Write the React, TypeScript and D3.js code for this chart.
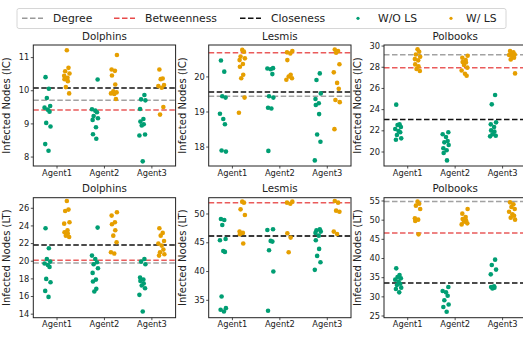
import React from 'react';
import * as d3 from 'd3';

const AGENTS = ['Agent1', 'Agent2', 'Agent3'];
const NETWORKS = ['Dolphins', 'Lesmis', 'Polbooks'];
const MODELS = ['IC', 'LT'];

// per agent: [W/O LS, W/ LS]
const dolphinsIC = [
  [[10.41, 10.06, 9.78, 9.54, 9.49, 9.43, 9.37, 9.03, 8.92, 8.39, 8.19],
   [11.22, 10.69, 10.59, 10.52, 10.45, 10.39, 10.35, 10.29, 10.11, 9.92]],
  [[10.34, 9.44, 9.4, 9.35, 9.24, 9.17, 9.12, 8.9, 8.69, 8.55],
   [11.08, 10.64, 10.6, 10.46, 10.19, 9.98, 9.95, 9.92, 9.9, 9.75]],
  [[9.87, 9.74, 9.71, 9.45, 9.15, 9.07, 8.99, 8.95, 8.68, 8.65, 7.87],
   [10.64, 10.37, 10.35, 10.17, 10.14, 10.09, 9.51, 9.28]],
];
const lesmisIC = [
  [[20.47, 20.15, 19.45, 19.41, 18.95, 18.8, 18.65, 17.9, 17.87],
   [20.77, 20.72, 20.58, 20.53, 20.48, 20.37, 20.29, 20.06, 19.96, 19.41, 18.98]],
  [[20.25, 20.24, 20.22, 20.08, 19.45, 19.41, 19.12, 19.1, 17.89],
   [20.74, 20.7, 20.67, 20.48, 20.06, 20.01, 19.96, 19.92]],
  [[20.1, 19.91, 19.53, 19.37, 19.25, 19.2, 18.94, 18.36, 18.15, 17.62],
   [20.78, 20.74, 20.69, 20.36, 20.13, 19.83, 19.66, 19.34, 19.28, 18.51]],
];
const polbooksIC = [
  [[24.47, 22.61, 22.55, 22.36, 22.17, 21.98, 21.86, 21.6, 21.29, 21.16],
   [29.69, 29.47, 29.21, 28.99, 28.77, 28.65, 28.27, 28.08, 27.83, 27.64]],
  [[21.86, 21.67, 21.42, 21.04, 20.91, 20.66, 20.35, 20.16, 19.91, 19.21],
   [29.09, 28.9, 28.68, 28.5, 28.46, 28.21, 27.96, 27.7, 27.39, 27.2]],
  [[25.38, 24.5, 22.8, 22.61, 22.36, 22.04, 21.92, 21.67, 21.54, 21.48],
   [29.53, 29.4, 29.28, 29.2, 29.15, 29.03, 28.9, 28.74, 27.42]],
];
const dolphinsLT = [
  [[23.74, 21.47, 20.26, 19.96, 19.74, 19.58, 19.36, 18.0, 17.62, 16.64, 15.96],
   [26.83, 25.85, 25.7, 24.42, 24.26, 23.51, 23.28, 23.13, 22.9, 22.75]],
  [[23.81, 20.64, 20.26, 19.89, 19.66, 19.21, 18.68, 17.92, 17.7, 16.87, 16.57],
   [25.55, 25.17, 24.42, 24.19, 23.51, 22.9, 22.15, 21.02, 20.87]],
  [[20.26, 19.96, 19.66, 18.15, 17.92, 17.77, 17.47, 17.25, 16.94, 16.19, 14.3],
   [23.74, 23.21, 22.9, 22.3, 22.0, 21.77, 21.32, 21.02, 20.79, 20.64]],
];
const lesmisLT = [
  [[49.13, 48.96, 48.09, 45.66, 45.43, 43.58, 43.41, 35.66, 33.64, 33.35, 33.06],
   [52.14, 51.97, 50.81, 49.83, 46.94, 46.71, 46.47, 44.86]],
  [[47.34, 47.23, 45.32, 45.2, 43.7, 40.0, 33.18],
   [52.14, 51.97, 51.79, 46.65, 45.9, 43.35]],
  [[47.34, 47.17, 46.94, 46.71, 46.24, 45.43, 43.93, 42.72, 41.62, 40.29],
   [52.25, 51.97, 50.58, 50.4, 46.94, 46.53]],
];
const polbooksLT = [
  [[37.43, 35.7, 35.17, 34.83, 34.48, 33.96, 33.43, 33.1, 32.4, 32.05, 31.17],
   [54.83, 54.3, 53.78, 52.9, 50.48, 50.13, 49.78, 46.3]],
  [[32.57, 31.52, 31.17, 30.3, 29.1, 28.0, 27.35, 26.13],
   [52.9, 51.7, 50.83, 50.3, 49.96, 49.6, 49.17, 48.9]],
  [[39.7, 38.3, 37.1, 35.87, 32.74, 32.57, 32.4, 32.2],
   [54.65, 54.13, 53.43, 52.9, 52.2, 51.52, 51.17, 50.65, 50.13]],
];

// baselines: [Degree, Betweenness, Closeness]
const baselinesIC = [[9.71, 9.42, 10.08], [19.45, 20.69, 19.57], [29.18, 27.96, 23.08]];
const baselinesLT = [[19.81, 20.11, 21.85], [46.18, 51.97, 46.18], [54.85, 46.65, 33.6]];

const ticksIC = [[8, 9, 10, 11], [18, 19, 20], [20, 22, 24, 26, 28, 30]];
const ticksLT = [[14, 16, 18, 20, 22, 24, 26], [35, 40, 45, 50], [25, 30, 35, 40, 45, 50, 55]];
const domainsIC = [[7.73, 11.38], [17.46, 20.91], [18.68, 30.1]];
const domainsLT = [[13.6, 27.2], [31.98, 52.83], [24.56, 55.86]];

const SERIES = ['W/O LS', 'W/ LS'];
const BASELINES = ['Degree', 'Betweenness', 'Closeness'];
const DOT_COLORS = ['#009E73', '#E69F00'];
const LINE_COLORS = ['#999999', '#e84a4a', '#111111'];
const JITTER = [-0.6, 0.4, -0.2, 0.8, -0.9, 0.1, 0.6, -0.4, 0.9, -0.7, 0.3];

const FONT = 'DejaVu Sans, sans-serif';
const W = 523, H = 337;
const colLeft = [33.3, 208.7, 384];
const panelW = 142.3;
const rowTop = [45, 197.7];
const rowH = [121, 120];

const panelData = [
  [dolphinsIC, lesmisIC, polbooksIC],
  [dolphinsLT, lesmisLT, polbooksLT],
];
const panelLines = [baselinesIC, baselinesLT];
const panelTicks = [ticksIC, ticksLT];
const panelDomains = [domainsIC, domainsLT];

function Panel({ row, col }: { row: number; col: number }) {
  const left = colLeft[col], top = rowTop[row];
  const w = panelW, h = rowH[row];
  const x = d3.scaleBand().domain(AGENTS).range([0, w]);
  const y = d3.scaleLinear().domain(panelDomains[row][col]).range([h, 0]);
  const bw = x.bandwidth();
  const data = panelData[row][col];
  const lines = panelLines[row][col];

  return (
    <g transform={`translate(${left},${top})`}>
      <text x={w / 2} y={-5.5} textAnchor="middle" fontSize={10.3} fill="#222">{NETWORKS[col]}</text>
      <text transform={`translate(-23,${h / 2}) rotate(-90)`} textAnchor="middle" fontSize={10} fill="#222">
        {`Infected Nodes (${MODELS[row]})`}
      </text>
      {lines.map((v, i) => (
        <line key={i} x1={0} x2={w} y1={y(v)} y2={y(v)} stroke={LINE_COLORS[i]}
          strokeWidth={1.5} strokeDasharray="5.5,2.5" opacity={i === 2 ? 1 : 0.9} />
      ))}
      {data.map((groups, a) =>
        groups.map((vals, s) =>
          vals.map((v, k) => {
            const cx = (x(AGENTS[a]) as number) + bw / 2 + (s === 0 ? -0.2 : 0.2) * bw + JITTER[(k + a * 3 + s * 5) % JITTER.length] * 0.07 * bw;
            return <circle key={`${a}-${s}-${k}`} cx={cx} cy={y(v)} r={2.3} fill={DOT_COLORS[s]} />;
          })
        )
      )}
      <rect x={0} y={0} width={w} height={h} fill="none" stroke="#222" strokeWidth={1} />
      {panelTicks[row][col].map(t => (
        <g key={t} transform={`translate(0,${y(t)})`}>
          <line x1={-2.5} x2={0} stroke="#222" strokeWidth={0.8} />
          <text x={-4} dy="0.32em" textAnchor="end" fontSize={8.3} fill="#222">{t}</text>
        </g>
      ))}
      {AGENTS.map(a => (
        <g key={a} transform={`translate(${(x(a) as number) + bw / 2},${h})`}>
          <line y1={0} y2={2.5} stroke="#222" strokeWidth={0.8} />
          <text y={9.7} textAnchor="middle" fontSize={8.3} fill="#222">{a}</text>
        </g>
      ))}
    </g>
  );
}

function Legend() {
  const lineX = [22, 114, 240];
  const dotX = [358, 451];
  return (
    <g fontSize={10.8} fill="#222">
      <rect x={17} y={8.5} width={489} height={20} rx={2} fill="#fff" stroke="#cccccc" strokeWidth={0.8} />
      {BASELINES.map((b, i) => (
        <g key={b}>
          <line x1={lineX[i]} x2={lineX[i] + 21} y1={18.3} y2={18.3} stroke={LINE_COLORS[i]}
            strokeWidth={1.5} strokeDasharray="5.5,2.5" />
          <text x={lineX[i] + 31} y={18.3} dy="0.35em">{b}</text>
        </g>
      ))}
      {SERIES.map((s, i) => (
        <g key={s}>
          <circle cx={dotX[i]} cy={18.3} r={1.6} fill={DOT_COLORS[i]} />
          <text x={dotX[i] + (i === 0 ? 20 : 15)} y={18.3} dy="0.35em">{s}</text>
        </g>
      ))}
    </g>
  );
}

export default function App() {
  return (
    <svg width={W} height={H} style={{ position: 'absolute', left: 0, top: 0, background: '#fff' }} fontFamily={FONT}>
      <rect width={W} height={H} fill="#fff" />
      {MODELS.map((m, r) => NETWORKS.map((n, c) => <Panel key={`${m}-${n}`} row={r} col={c} />))}
      <Legend />
    </svg>
  );
}
